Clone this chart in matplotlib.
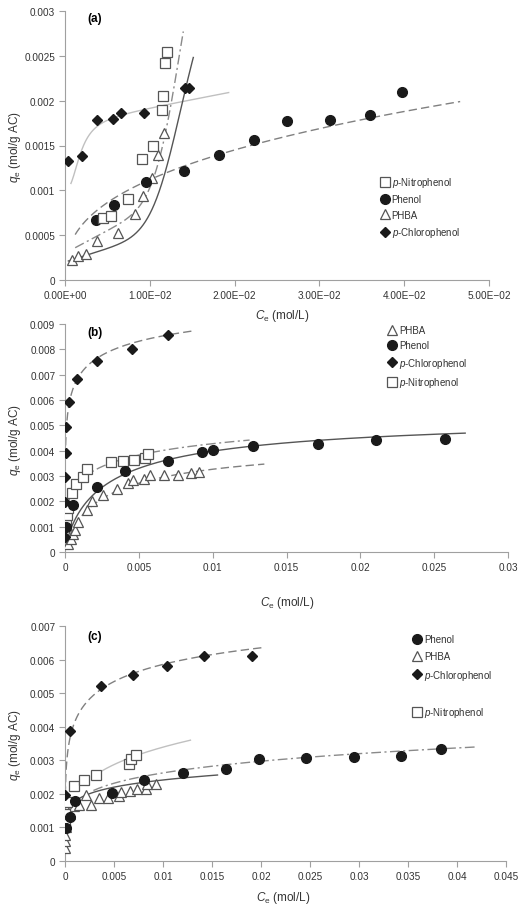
import numpy as np
import matplotlib
matplotlib.use('Agg')
import matplotlib.pyplot as plt
from matplotlib.lines import Line2D

plt.rcParams['font.family'] = ['Liberation Sans', 'DejaVu Sans']
plt.rcParams['mathtext.fontset'] = 'custom'
plt.rcParams['mathtext.rm'] = 'Liberation Sans'
plt.rcParams['mathtext.it'] = 'Liberation Sans:italic'

# ---- panel (a) data (Ce mol/L, qe mol/g AC)
a_nitro_c = [0.00452, 0.00542, 0.00739, 0.00912, 0.01038, 0.0114, 0.0116, 0.01183, 0.01206]
a_nitro_q = [0.000686, 0.000711, 0.0009, 0.001349, 0.0015, 0.001897, 0.002052, 0.002422, 0.002538]
a_phenol_c = [0.00364, 0.00582, 0.00954, 0.01398, 0.01813, 0.02229, 0.02621, 0.0312, 0.03595, 0.0397]
a_phenol_q = [0.000667, 0.000833, 0.00109, 0.00122, 0.00139, 0.001556, 0.001774, 0.001789, 0.001844, 0.002097]
a_phba_c = [0.00079, 0.00157, 0.00248, 0.00374, 0.00625, 0.00822, 0.00923, 0.01026, 0.01093, 0.01167]
a_phba_q = [0.000222, 0.000271, 0.000286, 0.000438, 0.000527, 0.000741, 0.000938, 0.00114, 0.001389, 0.001638]
a_chloro_c = [0.00039, 0.00206, 0.00376, 0.00566, 0.00665, 0.0093, 0.01413, 0.01457]
a_chloro_q = [0.001327, 0.001378, 0.001789, 0.0018, 0.001867, 0.001867, 0.002144, 0.002137]

# ---- panel (b) data
b_phba_c = [0.00023, 0.00038, 0.00052, 0.00068, 0.0009, 0.00147, 0.0018, 0.00255, 0.0035,
            0.00428, 0.00462, 0.00535, 0.00575, 0.0067, 0.00767, 0.0085, 0.00909]
b_phba_q = [0.000316, 0.000526, 0.000701, 0.000877, 0.00117, 0.00166, 0.00202, 0.00226, 0.00249,
            0.00272, 0.00286, 0.0029, 0.00304, 0.00304, 0.00304, 0.0031, 0.00316]
b_phenol_c = [0.00005, 0.00052, 0.00214, 0.00406, 0.00699, 0.00925, 0.01, 0.0127, 0.0171, 0.02109, 0.02572]
b_phenol_q = [0.00097, 0.00187, 0.00257, 0.00319, 0.00359, 0.00394, 0.00401, 0.00418, 0.00427, 0.00444, 0.00448]
b_chloro_c = [0.00001, 0.00002, 0.00003, 0.00005, 0.0001, 0.00027, 0.00079, 0.00214, 0.00451, 0.00699]
b_chloro_q = [0.000608, 0.00199, 0.00298, 0.00392, 0.00494, 0.00593, 0.00684, 0.00752, 0.00801, 0.00857]
b_nitro_c = [0.0001, 0.00011, 0.00022, 0.00045, 0.00074, 0.00119, 0.00146, 0.00309, 0.00395, 0.00467, 0.00541, 0.00559]
b_nitro_q = [0.00105, 0.00146, 0.00175, 0.00234, 0.00269, 0.00296, 0.00329, 0.00356, 0.0036, 0.00362, 0.00372, 0.00386]

# ---- panel (c) data
c_phenol_c = [0.0001, 0.00051, 0.00103, 0.00479, 0.0081, 0.01207, 0.01641, 0.01983, 0.02462, 0.02947, 0.03425, 0.03835]
c_phenol_q = [0.00099, 0.00131, 0.00178, 0.00204, 0.0024, 0.00261, 0.00273, 0.00305, 0.00308, 0.0031, 0.00314, 0.00333]
c_phba_c = [0.00001, 0.00002, 0.00004, 0.0001, 0.00051, 0.00092, 0.00147, 0.00215, 0.00263, 0.00352,
            0.00434, 0.00547, 0.00574, 0.0066, 0.00735, 0.00831, 0.00838, 0.00933]
c_phba_q = [0.00039, 0.00059, 0.00078, 0.00102, 0.00141, 0.00164, 0.00168, 0.00198, 0.00167, 0.00187,
            0.00189, 0.00193, 0.00205, 0.00208, 0.00213, 0.00215, 0.00228, 0.0023]
c_chloro_c = [0.00001, 0.00051, 0.00366, 0.0069, 0.01043, 0.01419, 0.01908]
c_chloro_q = [0.00198, 0.00386, 0.00522, 0.00555, 0.00582, 0.00612, 0.0061]
c_nitro_c = [0.00001, 0.00003, 0.00024, 0.00092, 0.00195, 0.00315, 0.0065, 0.00674, 0.00728]
c_nitro_q = [0.00117, 0.00141, 0.00175, 0.00222, 0.00241, 0.00256, 0.0029, 0.00304, 0.00315]


# isotherm model curves
def sips(c, qm, k, n):
    r = (k * c) ** n
    return qm * r / (1 + r)


def freundlich(c, c1, q1, n):
    return q1 * (c / c1) ** n


def hill_lin(c, a, b, qm, ch, n):
    r = (c / ch) ** n
    return a + b * c + qm * r / (1 + r)


DASH = (0, (6, 3))
DASHDOT = (0, (7, 2.5, 1.5, 2.5))

mk = {
    'nitro': dict(marker='s', ms=6.5, mfc='white', mec='#555555', mew=0.9, ls='none'),
    'phenol': dict(marker='o', ms=7, mfc='#1a1a1a', mec='#1a1a1a', ls='none'),
    'phba': dict(marker='^', ms=7, mfc='white', mec='#555555', mew=0.9, ls='none'),
    'chloro': dict(marker='D', ms=5, mfc='#1a1a1a', mec='#1a1a1a', ls='none'),
}
names = {
    'nitro': '$p$-Nitrophenol',
    'phenol': 'Phenol',
    'phba': 'PHBA',
    'chloro': '$p$-Chlorophenol',
}

W, H = 523, 912
fig = plt.figure(figsize=(W / 100, H / 100), dpi=100)


def make_ax(l, r, t, b):
    ax = fig.add_axes([l / W, 1 - b / H, (r - l) / W, (b - t) / H])
    for s in ['top', 'right']:
        ax.spines[s].set_visible(False)
    for s in ['left', 'bottom']:
        ax.spines[s].set_color('#a0a0a0')
        ax.spines[s].set_linewidth(0.8)
    ax.tick_params(colors='#a0a0a0', labelcolor='#333333', labelsize=7.2, length=4, width=0.8, pad=3)
    return ax


def curve(ax, fn, c0, c1, style, color, lw=1.0, geo=False):
    cc = np.geomspace(c0, c1, 400) if geo else np.linspace(c0, c1, 400)
    ax.plot(cc, fn(cc), ls=style, color=color, lw=lw, zorder=2)


def pts(ax, key, c, q):
    ax.plot(c, q, zorder=3, **mk[key])


def legend(ax, keys, x, y, sp=0.55):
    hs, ls = [], []
    for k in keys:
        if k is None:
            hs.append(Line2D([], [], ls='none'))
            ls.append(' ')
        else:
            hs.append(Line2D([], [], **mk[k]))
            ls.append(names[k])
    ax.legend(hs, ls, loc='upper left', bbox_to_anchor=(x, y), frameon=False, fontsize=7,
              handlelength=0.8, handletextpad=0.3, labelspacing=sp, borderpad=0, borderaxespad=0,
              labelcolor='#333333')


def qlabel(y):
    fig.text(15 / W, 1 - y / H, r'$q_{\mathrm{e}}$ (mol/g AC)', rotation=90, ha='center', va='center',
             fontsize=8.5, color='#333333')


def clabel(x, y):
    fig.text(x / W, 1 - y / H, r'$C_{\mathrm{e}}$ (mol/L)', ha='center', va='center', fontsize=8.5,
             color='#333333')


# ---------------- (a)
ax = make_ax(65, 489, 12, 281)
curve(ax, lambda c: hill_lin(c, 0.001, 0.018, 0.000745, 0.0018, 2.5), 0.0007, 0.0193, '-', '#c0c0c0')
curve(ax, lambda c: hill_lin(c, 0.0003, 0.05, 0.0036, 0.014, 8), 0.0012, 0.01395, DASHDOT, '#8a8a8a')
curve(ax, lambda c: freundlich(c, 0.00121, 0.000508, 0.374), 0.0012, 0.0466, DASH, '#808080')
curve(ax, lambda c: hill_lin(c, 0.0002, 0.03, 0.003, 0.0142, 7), 0.0004, 0.01513, '-', '#555555')
pts(ax, 'chloro', a_chloro_c, a_chloro_q)
pts(ax, 'phba', a_phba_c, a_phba_q)
pts(ax, 'phenol', a_phenol_c, a_phenol_q)
pts(ax, 'nitro', a_nitro_c, a_nitro_q)
ax.set_xlim(0, 0.05)
ax.set_ylim(0, 0.003)
ax.set_xticks([0, 0.01, 0.02, 0.03, 0.04, 0.05])
ax.set_xticklabels(['0.00E+00', '1.00E\u221202', '2.00E\u221202', '3.00E\u221202', '4.00E\u221202', '5.00E\u221202'])
ax.set_yticks(np.arange(0, 0.0031, 0.0005))
ax.set_yticklabels(['0', '0.0005', '0.001', '0.0015', '0.002', '0.0025', '0.003'])
legend(ax, ['nitro', 'phenol', 'phba', 'chloro'], 0.745, 0.39)
fig.text(87 / W, 1 - 19 / H, '(a)', fontweight='bold', fontsize=8.5, va='center')
qlabel(147)
clabel(282, 316)

# ---------------- (b)
ax = make_ax(65, 508, 325, 553)
curve(ax, lambda c: sips(c, 0.012, 3030, 0.3), 1e-9, 0.0088, DASH, '#808080', geo=True)
curve(ax, lambda c: sips(c, 0.0055, 333, 0.8), 3e-5, 0.0271, '-', '#555555', geo=True)
curve(ax, lambda c: sips(c, 0.0045, 338, 0.8), 3e-5, 0.0135, DASH, '#808080', geo=True)
curve(ax, lambda c: sips(c, 0.0075, 224, 0.35), 1e-5, 0.0125, DASHDOT, '#8a8a8a', geo=True)
pts(ax, 'phba', b_phba_c, b_phba_q)
pts(ax, 'nitro', b_nitro_c, b_nitro_q)
pts(ax, 'phenol', b_phenol_c, b_phenol_q)
pts(ax, 'chloro', b_chloro_c, b_chloro_q)
ax.set_xlim(0, 0.03)
ax.set_ylim(0, 0.009)
ax.set_xticks([0, 0.005, 0.01, 0.015, 0.02, 0.025, 0.03])
ax.set_xticklabels(['0', '0.005', '0.01', '0.015', '0.02', '0.025', '0.03'])
ax.set_yticks(np.arange(0, 0.0091, 0.001))
ax.set_yticklabels(['0', '0.001', '0.002', '0.003', '0.004', '0.005', '0.006', '0.007', '0.008', '0.009'])
legend(ax, ['phba', 'phenol', 'chloro', 'nitro'], 0.73, 0.995)
fig.text(87 / W, 1 - 333 / H, '(b)', fontweight='bold', fontsize=8.5, va='center')
qlabel(440)
clabel(287, 603)

# ---------------- (c)
ax = make_ax(65, 506, 627, 862)
curve(ax, lambda c: sips(c, 0.01, 317, 0.3), 1e-9, 0.0203, DASH, '#808080', geo=True)
curve(ax, lambda c: freundlich(c, 0.0029, 0.0021, 0.18), 0.0029, 0.042, DASHDOT, '#8a8a8a')
curve(ax, lambda c: freundlich(c, 0.00103, 0.00178, 0.134), 0.0002, 0.01556, '-', '#555555')
curve(ax, lambda c: freundlich(c, 0.0029, 0.00252, 0.24), 0.0029, 0.0128, '-', '#c0c0c0')
pts(ax, 'phba', c_phba_c, c_phba_q)
pts(ax, 'nitro', c_nitro_c, c_nitro_q)
pts(ax, 'phenol', c_phenol_c, c_phenol_q)
pts(ax, 'chloro', c_chloro_c, c_chloro_q)
ax.set_xlim(0, 0.045)
ax.set_ylim(0, 0.007)
ax.set_xticks(np.arange(0, 0.0451, 0.005))
ax.set_xticklabels(['0', '0.005', '0.01', '0.015', '0.02', '0.025', '0.03', '0.035', '0.04', '0.045'])
ax.set_yticks(np.arange(0, 0.0071, 0.001))
ax.set_yticklabels(['0', '0.001', '0.002', '0.003', '0.004', '0.005', '0.006', '0.007'])
legend(ax, ['phenol', 'phba', 'chloro', None, 'nitro'], 0.79, 0.965, sp=0.7)
fig.text(87 / W, 1 - 637 / H, '(c)', fontweight='bold', fontsize=8.5, va='center')
qlabel(745)
clabel(283, 898)

fig.savefig('out.png', dpi=100, facecolor='white')
